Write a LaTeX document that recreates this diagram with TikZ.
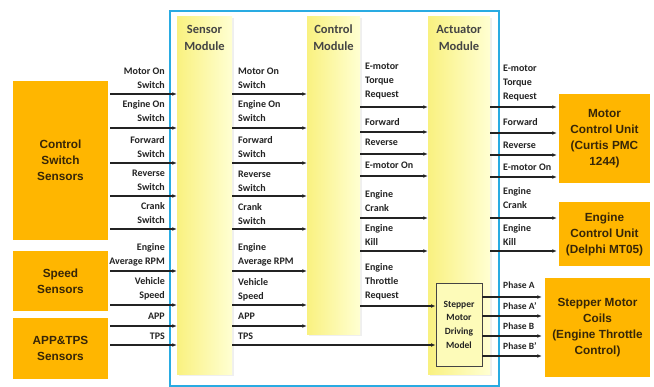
\documentclass[tikz,border=0pt]{standalone}
\usepackage{fontspec}
\setmainfont{Carlito}
\newfontfamily\boxfont{Liberation Sans}
\usetikzlibrary{arrows.meta,shadows}

\definecolor{frameblue}{RGB}{41,171,226}
\definecolor{boxorange}{RGB}{255,182,0}
\definecolor{boxtext}{RGB}{55,38,8}
\definecolor{colleft}{RGB}{249,241,128}
\definecolor{colright}{RGB}{255,255,210}
\definecolor{ink}{RGB}{35,35,35}

\tikzset{
  unitbox/.style={rectangle, fill=boxorange, text=boxtext, inner sep=0pt, align=center,
    font=\boxfont\bfseries\fontsize{11.8}{16}\selectfont},
  modcol/.style={rectangle, inner sep=0pt, left color=colleft, right color=colright,
    drop shadow={opacity=0.12, shadow xshift=1.5pt, shadow yshift=-1.5pt}},
  modtitle/.style={font=\bfseries\fontsize{12.5}{17}\selectfont, text=ink!85, align=center, inner sep=0pt},
  sig/.style={font=\bfseries\fontsize{10}{14}\selectfont, text=ink, inner sep=0pt},
  sigL/.style={sig, align=right, anchor=east},
  sigR/.style={sig, align=left, anchor=west},
  phase/.style={font=\bfseries\fontsize{9.5}{13}\selectfont, text=ink, inner sep=0pt, anchor=west},
  flow/.style={draw=ink, line width=1.1pt, -{Latex[length=4.5pt,width=3.8pt]}},
}

\begin{document}
\begin{tikzpicture}[x=1pt,y=-1pt]
  \useasboundingbox (0,0) rectangle (654,387);
  \fill[white] (0,0) rectangle (654,387);

  % outer controller frame
  \draw[frameblue, line width=1.3pt] (170,11) rectangle (499,386);

  % module columns
  \node[modcol, minimum width=55pt, minimum height=358pt] (sm) at (204.5,196) {};
  \node[modcol, minimum width=53pt, minimum height=318pt] (cm) at (333.5,176) {};
  \node[modcol, minimum width=62pt, minimum height=358pt] (am) at (459,196) {};
  \node[modtitle] (smt) at (204.5,37.5) {Sensor\\Module};
  \node[modtitle] (cmt) at (333.5,38) {Control\\Module};
  \node[modtitle] (amt) at (459,38) {Actuator\\Module};

  % stepper driver inside the actuator module
  \node[rectangle, draw=ink!85, line width=0.9pt, fill=colright!70!colleft,
        minimum width=46pt, minimum height=83pt, inner sep=0pt, align=center,
        font=\bfseries\fontsize{9.5}{13.7}\selectfont, text=ink]
        (smd) at (459,324.5) {Stepper\\Motor\\Driving\\Model};

  % sensors
  \node[unitbox, minimum width=95pt, minimum height=159pt] (css) at (60.5,160.5) {Control\\Switch\\Sensors};
  \node[unitbox, minimum width=95pt, minimum height=60pt] (spd) at (60.5,281) {Speed\\Sensors};
  \node[unitbox, minimum width=95pt, minimum height=61pt] (aps) at (60.5,348.5) {APP\&TPS\\Sensors};

  % actuated units
  \node[unitbox, minimum width=91pt, minimum height=89pt] (mcu) at (604.5,138.5) {Motor\\Control Unit\\(Curtis PMC\\1244)};
  \node[unitbox, minimum width=91pt, minimum height=64pt] (ecu) at (604.5,234) {Engine\\Control Unit\\(Delphi MT05)};
  \node[unitbox, minimum width=105pt, minimum height=99pt] (stc) at (597.5,327.5) {Stepper Motor\\Coils\\(Engine Throttle\\Control)};

  % sensors -> sensor module
  \foreach \y/\c/\src/\t [count=\i] in {
      94/78/css/{Motor On\\Switch},
      128/111/css/{Engine On\\Switch},
      163/147/css/{Forward\\Switch},
      196/180.5/css/{Reverse\\Switch},
      229/213.5/css/{Crank\\Switch},
      271/255/spd/{Engine\\Average RPM},
      305/288.5/spd/{Vehicle\\Speed},
      326/316/aps/{APP},
      345/336/aps/{TPS}}{
    \draw[flow, shorten <=2pt] (\src.east |- 0,\y) -- (sm.west |- 0,\y);
    \node[sigL] (in\i) at (165,\c) {\t};
  }

  % sensor module -> control module (TPS runs on to the stepper driver)
  \foreach \y/\c/\dst/\t [count=\i] in {
      94/78/cm/{Motor On\\Switch},
      128/111/cm/{Engine On\\Switch},
      163/147/cm/{Forward\\Switch},
      196/181/cm/{Reverse\\Switch},
      229/214/cm/{Crank\\Switch},
      271/255/cm/{Engine\\Average RPM},
      305/289.5/cm/{Vehicle\\Speed},
      326/316/cm/{APP},
      345/336/smd/{TPS}}{
    \draw[flow] (sm.east |- 0,\y) -- (\dst.west |- 0,\y);
    \node[sigR] (sv\i) at (238,\c) {\t};
  }

  % control module -> actuator module
  \foreach \y/\c/\dst/\t [count=\i] in {
      107/81/am/{E-motor\\Torque\\Request},
      132/122/am/{Forward},
      154/142/am/{Reverse},
      176/165/am/{E-motor On},
      218/201/am/{Engine\\Crank},
      251/235/am/{Engine\\Kill},
      306/282/smd/{Engine\\Throttle\\Request}}{
    \draw[flow] (cm.east |- 0,\y) -- (\dst.west |- 0,\y);
    \node[sigR] (cv\i) at (365,\c) {\t};
  }

  % actuator module -> units
  \foreach \y/\c/\dst/\t [count=\i] in {
      107/83/mcu/{E-motor\\Torque\\Request},
      133/122/mcu/{Forward},
      155/145/mcu/{Reverse},
      177/167/mcu/{E-motor On},
      218/198/ecu/{Engine\\Crank},
      251/235/ecu/{Engine\\Kill}}{
    \draw[flow, shorten >=2pt] (am.east |- 0,\y) -- (\dst.west |- 0,\y);
    \node[sigR] (av\i) at (503,\c) {\t};
  }

  % stepper phases
  \foreach \y/\c/\t [count=\i] in {
      297/285/{Phase A},
      316/306/{Phase A'},
      336/326/{Phase B},
      356/346/{Phase B'}}{
    \draw[flow, shorten >=3pt] (smd.east |- 0,\y) -- (stc.west |- 0,\y);
    \node[phase] (ph\i) at (503,\c) {\t};
  }
\end{tikzpicture}
\end{document}
